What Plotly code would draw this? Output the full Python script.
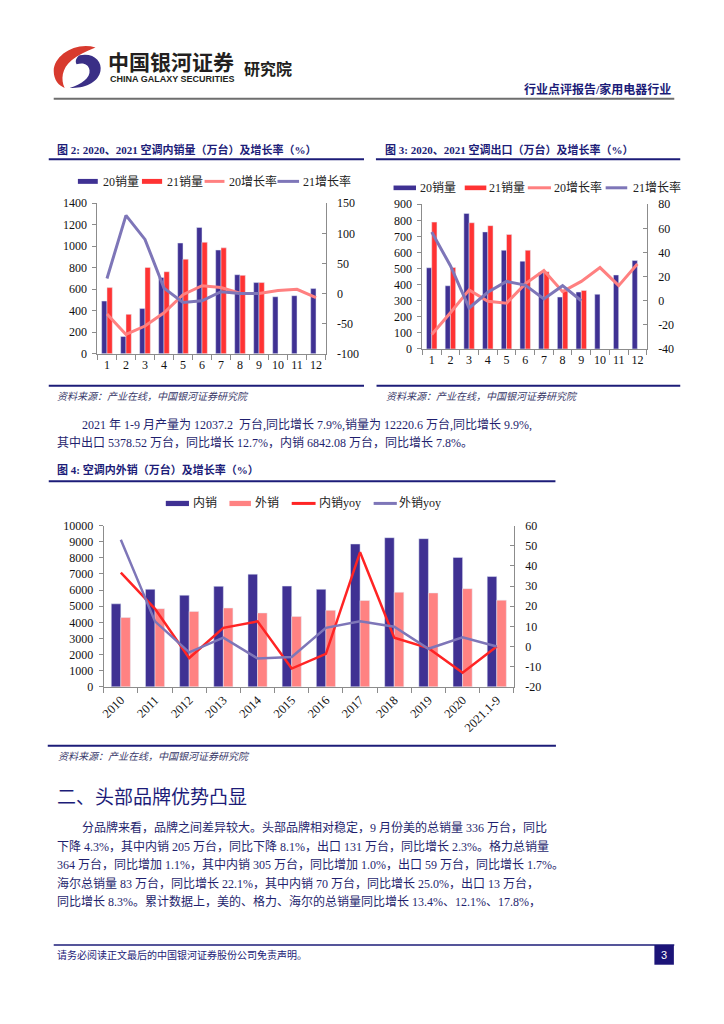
import plotly.graph_objects as go

W, H = 724, 1024

# ---------------- data ----------------
months = [str(i) for i in range(1, 13)]
# Figure 2: domestic sales (10k units) and growth (%)
dom20 = [490, 160, 420, 710, 1030, 1175, 965, 735, 662, 530, 540, 606]
dom21 = [615, 366, 803, 763, 880, 1037, 985, 729, 662]
dom20_yoy = [-34, -68, -54, -32, -2, 13, 10, 0.5, 0, 5, 7, -7]
dom21_yoy = [25, 130, 90, 9, -15, -12, 3, 0, 0]

# Figure 3: exports (10k units) and growth (%)
exp20 = [505, 393, 843, 728, 614, 546, 477, 323, 354, 340, 460, 550]
exp21 = [789, 507, 785, 767, 712, 614, 481, 360, 364]
exp20_yoy = [-28, -10, 9, -0.5, -2, 14, 25, 7.5, 16, 27.5, 12.5, 30.5]
exp21_yoy = [57, 29, -6, 7, 16, 13, 1.5, 12.5, 0]

# Figure 4: domestic / export sales by year
years = ['2010', '2011', '2012', '2013', '2014', '2015', '2016', '2017',
         '2018', '2019', '2020', '2021.1-9']
domestic = [5150, 6050, 5685, 6235, 6990, 6250, 6050, 8860, 9250, 9190, 8030, 6842]
export = [4300, 4850, 4680, 4890, 4585, 4360, 4745, 5355, 5870, 5825, 6090, 5379]
dom_yoy = [36.7, 18.7, -5.7, 9.3, 12.5, -10.9, -3.6, 46.8, 4.4, -0.8, -13, 0]
exp_yoy = [53, 12.5, -2.9, 4.4, -5.9, -5.2, 9.3, 12.5, 9.8, -1.1, 4.6, 0]

# tick labels (plain hyphen minus, as in the reference)
ticks_dom_left = [0, 200, 400, 600, 800, 1000, 1200, 1400]
ticks_dom_right = [-100, -50, 0, 50, 100, 150]
ticks_exp_left = [0, 100, 200, 300, 400, 500, 600, 700, 800, 900]
ticks_exp_right = [-40, -20, 0, 20, 40, 60, 80]
ticks_y_left = [0, 1000, 2000, 3000, 4000, 5000, 6000, 7000, 8000, 9000, 10000]
ticks_y_right = [-20, -10, 0, 10, 20, 30, 40, 50, 60]

# ---------------- styles ----------------
NAVY = '#3f3193'
RED = '#ff3333'
PINK_LINE = '#ff8080'
PURPLE = '#7e76b8'
PINK_BAR = '#ff8282'
RED_LINE = '#ff2424'
AXIS = '#8c8c8c'
TXT_NAVY = '#1c1c78'
FONT = 'Liberation Serif, Noto Sans CJK SC, serif'
CJK = 'Noto Sans CJK SC, sans-serif'


def X(p):
    return p / W


def Y(p):
    return 1 - p / H


fig = go.Figure()

# chart 2
fig.add_trace(go.Bar(x=months, y=dom20, marker_color=NAVY, xaxis='x', yaxis='y', name='20销量'))
fig.add_trace(go.Bar(x=months[:len(dom21)], y=dom21, marker_color=RED, xaxis='x', yaxis='y', name='21销量'))
fig.add_trace(go.Scatter(x=months, y=dom20_yoy, mode='lines', line=dict(color=PINK_LINE, width=3),
                         xaxis='x', yaxis='y2', name='20增长率'))
fig.add_trace(go.Scatter(x=months[:len(dom21_yoy)], y=dom21_yoy, mode='lines', line=dict(color=PURPLE, width=3),
                         xaxis='x', yaxis='y2', name='21增长率'))
# chart 3
fig.add_trace(go.Bar(x=months, y=exp20, marker_color=NAVY, xaxis='x2', yaxis='y3', name='20销量'))
fig.add_trace(go.Bar(x=months[:len(exp21)], y=exp21, marker_color=RED, xaxis='x2', yaxis='y3', name='21销量'))
fig.add_trace(go.Scatter(x=months, y=exp20_yoy, mode='lines', line=dict(color=PINK_LINE, width=3),
                         xaxis='x2', yaxis='y4', name='20增长率'))
fig.add_trace(go.Scatter(x=months[:len(exp21_yoy)], y=exp21_yoy, mode='lines', line=dict(color=PURPLE, width=3),
                         xaxis='x2', yaxis='y4', name='21增长率'))
# chart 4
fig.add_trace(go.Bar(x=years, y=domestic, marker_color=NAVY, xaxis='x3', yaxis='y5', name='内销'))
fig.add_trace(go.Bar(x=years, y=export, marker_color=PINK_BAR, xaxis='x3', yaxis='y5', name='外销'))
fig.add_trace(go.Scatter(x=years, y=dom_yoy, mode='lines', line=dict(color=RED_LINE, width=2.5),
                         xaxis='x3', yaxis='y6', name='内销yoy'))
fig.add_trace(go.Scatter(x=years, y=exp_yoy, mode='lines', line=dict(color=PURPLE, width=2.5),
                         xaxis='x3', yaxis='y6', name='外销yoy'))

tickfont = dict(family=FONT, size=12, color='#111')


def xax(domain, anchor, angle=0, size=12):
    return dict(domain=domain, anchor=anchor, type='category', showline=True, linecolor=AXIS,
                linewidth=1, ticks='outside', tickson='boundaries', ticklen=5, tickcolor=AXIS,
                showgrid=False, zeroline=False, tickfont=dict(family=FONT, size=size, color='#111'),
                tickangle=angle, fixedrange=True)


def yleft(domain, anchor, rng, vals):
    return dict(domain=domain, anchor=anchor, range=rng, tickmode='array', tickvals=vals,
                ticktext=[str(v) for v in vals], showline=True, linecolor=AXIS,
                ticks='outside', ticklen=4, tickcolor=AXIS, showgrid=False, zeroline=False,
                tickfont=tickfont, ticklabelstandoff=3)


def yright(over, anchor, rng, vals):
    return dict(overlaying=over, anchor=anchor, side='right', range=rng, tickmode='array',
                tickvals=vals, ticktext=[str(v) for v in vals], showline=True,
                linecolor=AXIS, ticks='inside', ticklen=4, tickcolor=AXIS, showgrid=False,
                zeroline=False, tickfont=tickfont, ticklabelstandoff=8)


annotations = []
shapes = []


def text(x, y, s, size=12, color='#222', family=FONT, xanchor='left', bold=False, italic=False):
    if bold:
        s = '<b>' + s + '</b>'
    if italic:
        s = '<i>' + s + '</i>'
    annotations.append(dict(x=X(x), y=Y(y), xref='paper', yref='paper', text=s, showarrow=False,
                            xanchor=xanchor, yanchor='middle', font=dict(size=size, color=color, family=family),
                            borderpad=0))


def hline(x0, x1, y, color, width):
    shapes.append(dict(type='line', xref='paper', yref='paper', x0=X(x0), x1=X(x1), y0=Y(y), y1=Y(y),
                       line=dict(color=color, width=width)))


def rect(x0, x1, y0, y1, color):
    shapes.append(dict(type='rect', xref='paper', yref='paper', x0=X(x0), x1=X(x1), y0=Y(y0), y1=Y(y1),
                       fillcolor=color, line=dict(width=0)))


def path(cmds, color):
    out = []
    for c in cmds:
        if isinstance(c, str):
            out.append(c)
        else:
            out.append('%.5f,%.5f' % (X(c[0]), Y(c[1])))
    shapes.append(dict(type='path', xref='paper', yref='paper', path=' '.join(out),
                       fillcolor=color, line=dict(width=0)))


# ---------- header ----------
path(['M', (92, 41), 'C', (72, 35), (50, 49), (50, 65), 'C', (50, 74), (55, 80), (61, 82),
      'C', (57, 74), (58, 62), (68, 54), 'C', (74, 49), (82, 45), (92, 41), 'Z'], '#d83a2e')
path(['M', (76, 49), 'C', (90, 46), (99, 55), (97, 65), 'C', (95, 76), (82, 83), (66, 82),
      'C', (78, 78), (87, 72), (86, 64), 'C', (85, 58), (80, 56), (73, 58),
      'C', (71, 55), (73, 51), (76, 49), 'Z'], '#3a2f86')
text(104, 55, '中国银河证券', size=21, color='#231f20', family=CJK, bold=True)
text(105.5, 73, 'CHINA GALAXY SECURITIES', size=9, color='#231f20', family='Liberation Sans, Arial', bold=True)
text(240, 62, '研究院', size=16, color='#231f20', family=CJK, bold=True)
text(672, 84, '行业点评报告/家用电器行业', size=12, color=TXT_NAVY, family=FONT, xanchor='right', bold=True)
hline(50, 674, 93, '#6e6e6e', 2)

# ---------- chart titles ----------
text(52, 144, '图 2: 2020、2021 空调内销量（万台）及增长率（%）', size=11, color=TXT_NAVY, bold=True)
hline(45, 362, 154.3, TXT_NAVY, 2)
text(382, 144, '图 3: 2020、2021 空调出口（万台）及增长率（%）', size=11, color=TXT_NAVY, bold=True)
hline(374, 680, 154.3, TXT_NAVY, 2)

# legends chart 2
LG = 12
rect(74.3, 94.3, 174.3, 179.3, NAVY); text(99, 177, '20销量', LG)
rect(138.7, 159, 174.3, 179.3, RED); text(162.5, 177, '21销量', LG)
hline(201.7, 221.7, 176.8, PINK_LINE, 3); text(225, 177, '20增长率', LG)
hline(275, 296.7, 176.8, PURPLE, 3); text(300, 177, '21增长率', LG)
# legends chart 3
rect(391.7, 414.3, 181, 185.7, NAVY); text(417, 183.3, '20销量', LG)
rect(463.3, 485, 181, 185.7, RED); text(486.5, 183.3, '21销量', LG)
hline(526.7, 550, 183.3, PINK_LINE, 3); text(552.5, 183.3, '20增长率', LG)
hline(605, 626.7, 183.3, PURPLE, 3); text(631, 183.3, '21增长率', LG)

# sources
hline(45, 362, 384, TXT_NAVY, 2)
hline(374.6, 680, 384, TXT_NAVY, 2)
text(52.6, 395, '资料来源：产业在线，中国银河证券研究院', size=10, color='#3a3a6a', italic=True)
text(383, 395, '资料来源：产业在线，中国银河证券研究院', size=10, color='#3a3a6a', italic=True)

# paragraph
PC = '#1f1f6e'
text(77, 423, '2021 年 1-9 月产量为 12037.2  万台,同比增长 7.9%,销量为 12220.6 万台,同比增长 9.9%,', 12, PC)
text(52.6, 441.7, '其中出口 5378.52 万台，同比增长 12.7%，内销 6842.08 万台，同比增长 7.8%。', 12, PC)

# chart 4 title & legend
text(52, 469, '图 4: 空调内外销（万台）及增长率（%）', size=11, color=TXT_NAVY, bold=True)
hline(45, 554.5, 480.7, TXT_NAVY, 2)
rect(162.7, 186, 500.7, 506, NAVY); text(189, 503.3, '内销', LG)
rect(226.7, 248.3, 500.7, 506, PINK_BAR); text(251.5, 503.3, '外销', LG)
hline(289.3, 313.3, 503.3, RED_LINE, 3); text(315.5, 503.3, '内销yoy', LG)
hline(371.7, 395, 503.3, PURPLE, 3); text(396.5, 503.3, '外销yoy', LG)
hline(44, 555, 749, TXT_NAVY, 2)
text(53, 760, '资料来源：产业在线，中国银河证券研究院', size=10, color='#3a3a6a', italic=True)

# section 2
text(52.6, 801.7, '二、头部品牌优势凸显', size=19, color=TXT_NAVY, family=FONT)
lines2 = [
    (77, 831.7, '分品牌来看，品牌之间差异较大。头部品牌相对稳定，9 月份美的总销量 336 万台，同比'),
    (52.6, 850.7, '下降 4.3%，其中内销 205 万台，同比下降 8.1%，出口 131 万台，同比增长 2.3%。格力总销量'),
    (52.6, 869.3, '364 万台，同比增加 1.1%，其中内销 305 万台，同比增加 1.0%，出口 59 万台，同比增长 1.7%。'),
    (52.6, 888.3, '海尔总销量 83 万台，同比增长 22.1%，其中内销 70 万台，同比增长 25.0%，出口 13 万台，'),
    (52.6, 907.3, '同比增长 8.3%。累计数据上，美的、格力、海尔的总销量同比增长 13.4%、12.1%、17.8%，'),
]
for x, y, s in lines2:
    text(x, y, s, 12, PC)

# footer
hline(50, 674, 951, TXT_NAVY, 1.5)
text(52.6, 961, '请务必阅读正文最后的中国银河证券股份公司免责声明。', size=10, color=TXT_NAVY)
rect(654, 673.6, 951, 971, '#1c1478')
text(663.8, 961, '3', size=11, color='white', family='Liberation Sans, Arial', xanchor='center')

fig.update_layout(
    width=W, height=H, margin=dict(l=0, r=0, t=0, b=0),
    paper_bgcolor='white', plot_bgcolor='white',
    showlegend=False, barmode='group', bargap=0.44, bargroupgap=0,
    font=dict(family=FONT, size=12),
    xaxis=xax([X(94), X(323.3)], 'y'),
    yaxis=yleft([Y(351.5), Y(199)], 'x', [0, 1400], ticks_dom_left),
    yaxis2=yright('y', 'x', [-100, 150], ticks_dom_right),
    xaxis2=xax([X(420.7), X(646.3)], 'y3'),
    yaxis3=yleft([Y(346.7), Y(200)], 'x2', [0, 900], ticks_exp_left),
    yaxis4=yright('y3', 'x2', [-40, 80], ticks_exp_right),
    xaxis3=xax([X(100.3), X(512.7)], 'y5', angle=-45, size=12.5),
    yaxis5=yleft([Y(689.3), Y(525.8)], 'x3', [0, 10000], ticks_y_left),
    yaxis6=yright('y5', 'x3', [-20, 60], ticks_y_right),
    annotations=annotations, shapes=shapes,
)

fig.write_html('out.html', config={'displayModeBar': False},
               post_script="document.body.style.margin='0';")
